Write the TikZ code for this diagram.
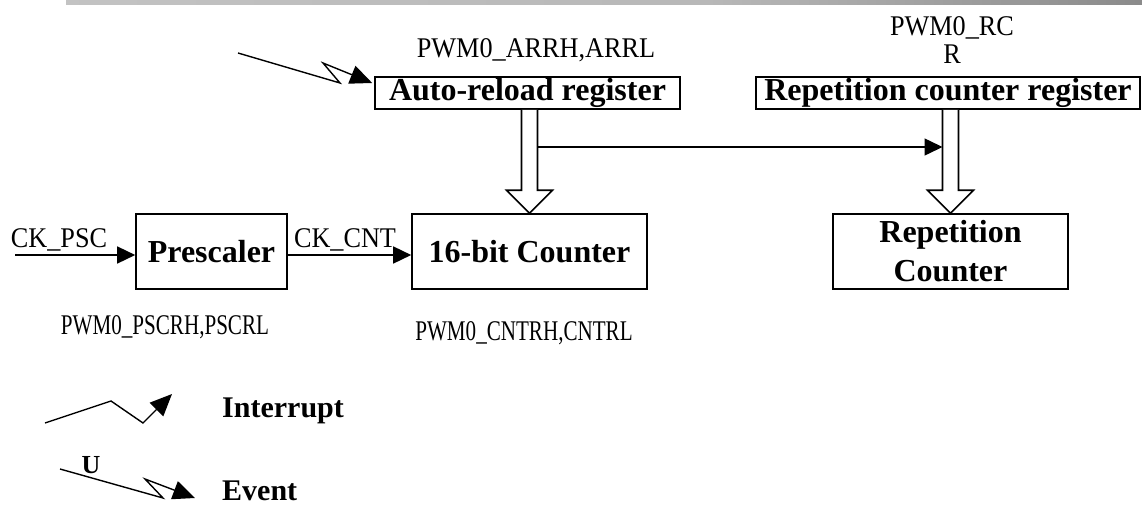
\documentclass[tikz,border=0pt]{standalone}
\usepackage{fontspec}
\setmainfont{Liberation Serif}
% narrow cuts of the serif face for the register names
\newfontfamily\lblfont[FakeStretch=0.92]{Liberation Serif}
\newfontfamily\narrowlblfont[FakeStretch=0.74]{Liberation Serif}
\usetikzlibrary{arrows.meta,calc}

% grey rule along the top edge, darkening to the right
\pgfdeclarehorizontalshading{topbar}{100bp}{color(0bp)=(black!20); color(55bp)=(black!28); color(80bp)=(black!50); color(100bp)=(black!92)}

\begin{document}
\begin{tikzpicture}[x=1pt,y=-1pt,
  blk/.style={draw, line width=1.6pt, inner sep=0pt, align=center,
    font=\fontsize{32}{39}\selectfont\bfseries},
  lbl/.style={inner sep=0pt, align=center, font=\lblfont\fontsize{28.5}{28}\selectfont},
  lowlbl/.style={inner sep=0pt, font=\narrowlblfont\fontsize{28.5}{28}\selectfont},
  legendtxt/.style={inner sep=0pt, font=\fontsize{30}{32}\selectfont\bfseries},
  wire/.style={line width=1.5pt, -{Triangle[length=18pt,width=17pt]}},
  zig/.style={line width=1.4pt, line join=miter, -{Triangle[length=22pt,width=19pt]}},
  hollow/.style={draw, line width=1.6pt, fill=white, line join=miter}]

\useasboundingbox (0,0) rectangle (1142,506);
\shade[shading=topbar] (66,0) rectangle (1142,4.5);

% registers
\node[blk, minimum width=305pt, minimum height=32pt] (arr) at (527.5,93) {Auto-reload register};
\node[blk, minimum width=384pt, minimum height=32pt] (rcr) at (948,93) {Repetition counter register};

% counters
\node[blk, minimum width=151pt, minimum height=75pt] (psc) at (211.5,251.5) {Prescaler};
\node[blk, minimum width=235pt, minimum height=75pt] (cnt) at (529.5,251.5) {16-bit Counter};
\node[blk, minimum width=235pt, minimum height=75pt] (rc) at (950.5,251.5) {Repetition\\Counter};

% register names
\node[lbl, anchor=base] (arrlbl) at (536,57) {PWM0\_ARRH,ARRL};
\node[lbl] (rcrlbl) at (952,40) {PWM0\_RC\\R};
\node[lowlbl, anchor=base] (psclbl) at (165,334) {PWM0\_PSCRH,PSCRL};
\node[lowlbl, anchor=base] (cntlbl) at (524,340) {PWM0\_CNTRH,CNTRL};

% clock path
\coordinate (ckin) at (15,255);
\node[lbl, anchor=base] (ckpsc) at (59,247) {CK\_PSC};
\node[lbl, anchor=base] (ckcnt) at (345,247) {CK\_CNT};
\draw[wire] (ckin) -- (psc.west |- ckin);
\draw[wire] (psc.east |- ckin) -- (cnt.west |- ckin);

% wide transfer arrows from the registers
\draw[hollow] let \p1=(cnt.north), \p2=(arr.south) in
  (\x1-8pt,\y2) -- (\x1-8pt,\y1+23pt) -- (\x1-23pt,\y1+23pt) -- (\x1,\y1)
  -- (\x1+23pt,\y1+23pt) -- (\x1+8pt,\y1+23pt) -- (\x1+8pt,\y2);
\draw[hollow] let \p1=(rc.north), \p2=(rcr.south) in
  (\x1-8pt,\y2) -- (\x1-8pt,\y1+23pt) -- (\x1-23pt,\y1+23pt) -- (\x1,\y1)
  -- (\x1+23pt,\y1+23pt) -- (\x1+8pt,\y1+23pt) -- (\x1+8pt,\y2);

% branch to the repetition counter
\coordinate (hy) at (0,147);
\draw[wire] ([xshift=8pt]cnt.north |- hy) -- ([xshift=-8pt]rc.north |- hy);

% update event into the auto-reload register
\coordinate (ue0) at (238,53);
\coordinate (ue1) at (340,83);
\coordinate (ue2) at (323,63);
\draw[zig] (ue0) -- (ue1) -- (ue2) -- ([xshift=-2pt,yshift=10pt]arr.west);

% legend
\draw[zig] (45,423) -- (111,401) -- (143,423) -- (172,394);
\node[legendtxt, anchor=base west] (lint) at (222,417) {Interrupt};
\draw[zig] (60,469) -- (163,498) -- (145,479) -- (195,498);
\node[inner sep=0pt, anchor=base, font=\fontsize{26}{28}\selectfont\bfseries] (lu) at (91,473) {U};
\node[legendtxt, anchor=base west] (lev) at (222,500) {Event};
\end{tikzpicture}
\end{document}
